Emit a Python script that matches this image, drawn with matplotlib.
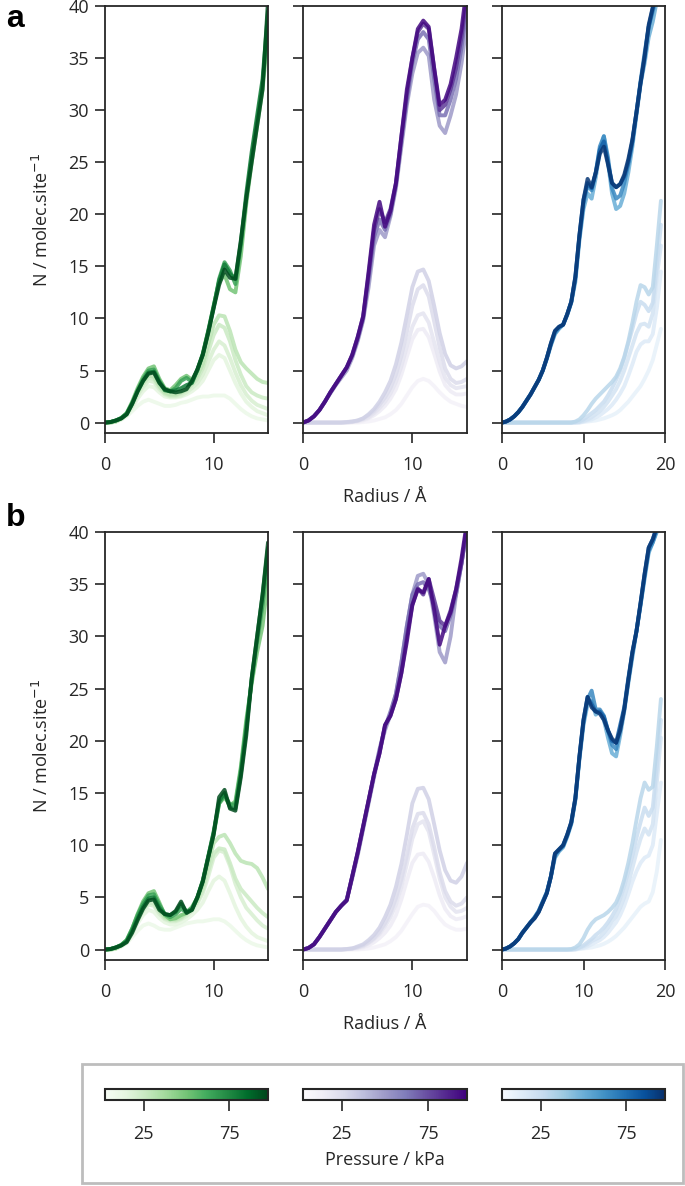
import numpy as np
import matplotlib
matplotlib.use("Agg")
import matplotlib.pyplot as plt
from matplotlib.patches import Rectangle
from matplotlib.colors import Normalize
from matplotlib.cm import ScalarMappable

plt.rcParams['font.family'] = ['Open Sans', 'DejaVu Sans']

# ---------------- data ----------------
radius_short = np.arange(0, 15.01, 0.5)     # 31 points (panels 1, 2)
radius_long = np.arange(0, 19.51, 0.5)      # 40 points (panel 3)

pressures = [10, 15, 20, 25, 30, 50, 65, 80, 95]   # kPa
pressure_ticks = [25, 75]
pressure_range = (2.5, 97.5)

# Row a, green
green_a_10 = [0,0,0.1,0.3,0.6,1.1,1.6,2.0,2.2,2.0,1.8,1.6,1.6,1.7,1.9,2.0,2.2,2.4,2.5,2.5,2.6,2.6,2.6,2.3,1.8,1.3,0.9,0.6,0.4,0.3,0.2]
green_a_15 = [0,0,0.1,0.3,0.7,1.4,2.3,3.0,3.5,3.4,2.9,2.5,2.4,2.4,2.5,2.7,3.0,3.4,4.0,5.0,6.0,6.5,6.2,5.0,3.8,2.8,2.0,1.5,1.1,0.9,0.7]
green_a_20 = [0,0,0.1,0.4,0.8,1.6,2.6,3.4,4.0,3.9,3.2,2.7,2.5,2.5,2.6,2.9,3.3,3.8,4.6,5.8,7.0,7.8,7.4,6.2,4.8,3.6,2.7,2.1,1.7,1.5,1.3]
green_a_25 = [0,0,0.1,0.4,0.8,1.7,2.8,3.7,4.3,4.2,3.4,2.8,2.6,2.6,2.8,3.1,3.6,4.2,5.2,6.8,8.4,9.4,9.1,7.8,6.0,4.6,3.5,2.9,2.6,2.4,2.3]
green_a_30 = [0,0,0.1,0.4,0.9,1.8,3.0,3.9,4.5,4.4,3.5,2.9,2.7,2.7,2.9,3.2,3.8,4.5,5.6,7.5,9.4,10.3,10.2,8.8,7.0,5.8,5.2,4.7,4.2,3.9,3.8]
green_a_50 = [0,0.05,0.2,0.45,0.9,2.0,3.3,4.4,5.2,5.4,4.2,3.3,3.1,3.6,4.2,4.5,4.1,5.0,6.6,8.8,11.2,13.5,14.2,12.8,12.5,16.0,21.0,25.0,28.5,32.0,37.5]
green_a_65 = [0,0.05,0.2,0.45,0.9,1.9,3.1,4.2,5.0,5.1,4.0,3.2,3.0,3.3,4.0,4.3,3.9,5.0,6.5,8.7,11.0,13.8,15.4,14.6,13.3,17.0,21.5,25.5,29.0,32.5,38.5]
green_a_80 = [0,0.05,0.2,0.4,0.8,1.8,3.0,4.0,4.8,4.9,3.9,3.1,3.0,3.1,3.3,3.6,3.8,5.1,6.6,8.8,11.2,13.6,15.2,14.3,13.8,17.3,22.0,26.0,29.5,33.0,39.5]
green_a_95 = [0,0.05,0.2,0.4,0.8,1.8,3.0,4.0,4.7,4.8,3.8,3.2,3.0,2.9,3.0,3.2,4.0,5.1,6.5,8.6,11.0,13.2,14.7,13.9,13.8,17.5,21.5,25.0,28.5,32.0,40.5]

# Row a, purple
purple_a_10 = [0,0,0,0,0,0,0,0,0,0,0,0.05,0.1,0.2,0.35,0.5,0.8,1.2,1.8,2.6,3.4,4.0,4.2,4.0,3.5,2.9,2.4,2.0,1.8,1.6,1.5]
purple_a_15 = [0,0,0,0,0,0,0,0,0,0.05,0.1,0.2,0.4,0.7,1.1,1.6,2.3,3.2,4.6,6.3,8.0,8.9,9.0,8.2,6.6,4.9,3.6,3.0,2.7,2.7,2.8]
purple_a_20 = [0,0,0,0,0,0,0,0,0,0.05,0.15,0.3,0.5,0.9,1.4,2.0,2.8,3.9,5.4,7.3,9.2,10.3,10.5,9.6,7.7,5.8,4.3,3.6,3.3,3.4,3.5]
purple_a_25 = [0,0,0,0,0,0,0,0,0.05,0.1,0.2,0.4,0.7,1.1,1.7,2.4,3.3,4.6,6.4,8.7,11.2,12.8,13.2,12.1,9.7,7.2,5.2,4.2,3.8,3.9,4.2]
purple_a_30 = [0,0,0,0,0,0,0,0,0.05,0.1,0.2,0.4,0.8,1.3,2.0,2.9,4.0,5.6,7.7,10.3,13.0,14.5,14.7,13.6,11.2,8.6,6.6,5.5,5.2,5.4,5.9]
purple_a_50 = [0,0.2,0.6,1.2,2.0,2.8,3.6,4.3,5.0,6.2,7.8,9.8,13.0,17.0,18.5,17.8,19.8,22.5,26.5,30.5,33.5,35.5,36.0,35.2,31.0,28.5,27.8,29.5,31.5,34.5,38.5]
purple_a_65 = [0,0.2,0.6,1.2,2.0,2.9,3.7,4.5,5.3,6.4,8.0,10.0,13.8,17.8,19.5,18.5,20.0,22.8,27.0,31.0,34.5,36.8,37.5,36.8,33.0,29.5,29.5,31.0,33.0,36.0,40.0]
purple_a_80 = [0,0.2,0.6,1.2,2.0,2.9,3.7,4.5,5.3,6.5,8.2,10.2,14.2,18.5,20.5,19.2,20.5,23.0,27.5,31.5,35.0,37.5,38.3,37.8,34.0,30.0,30.5,32.0,34.0,37.0,41.0]
purple_a_95 = [0,0.2,0.6,1.2,2.0,2.9,3.7,4.5,5.3,6.5,8.2,10.2,14.5,19.0,21.2,18.8,20.3,23.0,27.5,32.0,35.0,37.8,38.6,38.0,34.0,30.5,31.0,32.5,35.0,37.8,42.0]

# Row a, blue
blue_a_10 = [0,0,0,0,0,0,0,0,0,0,0,0,0,0,0,0,0,0,0,0,0.05,0.1,0.15,0.2,0.3,0.4,0.55,0.7,0.9,1.2,1.6,2.0,2.5,3.0,3.5,4.2,5.0,6.0,7.5,9.0]
blue_a_15 = [0,0,0,0,0,0,0,0,0,0,0,0,0,0,0,0,0,0,0,0,0.1,0.2,0.3,0.5,0.7,1.0,1.3,1.7,2.2,2.8,3.5,4.5,5.6,6.8,7.5,7.8,7.8,8.5,11.0,14.5]
blue_a_20 = [0,0,0,0,0,0,0,0,0,0,0,0,0,0,0,0,0,0,0,0.05,0.15,0.3,0.5,0.8,1.1,1.5,2.0,2.6,3.2,4.0,5.0,6.2,7.4,8.6,9.4,9.5,9.2,10.5,14.0,17.0]
blue_a_25 = [0,0,0,0,0,0,0,0,0,0,0,0,0,0,0,0,0,0,0.05,0.1,0.3,0.6,0.9,1.2,1.6,2.0,2.6,3.3,4.1,5.0,6.2,7.6,9.0,10.5,11.6,11.3,10.7,11.5,15.0,19.0]
blue_a_30 = [0,0,0,0,0,0,0,0,0,0,0,0,0,0,0,0,0,0,0.1,0.3,0.7,1.2,1.8,2.3,2.7,3.1,3.5,3.9,4.4,5.2,6.3,7.8,9.6,11.6,13.2,13.0,12.3,13.0,17.0,21.3]
blue_a_50 = [0,0.1,0.3,0.6,1.0,1.5,2.1,2.7,3.4,4.1,5.0,6.1,7.4,8.5,9.0,9.4,10.3,11.5,13.5,17.5,20.5,22.0,21.5,23.5,26.0,27.5,25.0,22.0,20.5,20.8,22.0,24.0,26.5,29.5,32.5,34.5,37.0,38.5,40.5,42.0]
blue_a_65 = [0,0.1,0.3,0.6,1.0,1.5,2.1,2.7,3.4,4.1,5.0,6.2,7.5,8.6,9.1,9.4,10.4,11.6,13.8,17.8,21.0,22.8,22.3,24.0,26.5,27.5,25.5,22.5,21.5,21.8,23.0,24.8,27.0,29.8,32.8,35.5,38.0,39.5,41.0,42.5]
blue_a_80 = [0,0.1,0.3,0.6,1.0,1.5,2.1,2.7,3.4,4.1,5.0,6.2,7.6,8.8,9.2,9.4,10.4,11.6,14.0,18.0,21.4,23.0,22.5,24.0,26.2,27.0,25.0,23.0,22.6,22.9,23.6,25.0,27.0,29.8,32.6,35.0,38.0,39.8,41.5,43.0]
blue_a_95 = [0,0.1,0.3,0.6,1.0,1.5,2.1,2.7,3.4,4.1,5.0,6.2,7.6,8.8,9.2,9.4,10.4,11.6,14.0,18.0,21.4,23.4,22.6,24.0,25.8,26.5,24.8,23.0,22.6,22.9,23.8,25.3,27.2,29.8,32.6,35.2,38.2,39.9,41.5,43.0]

# Row b, green
green_b_10 = [0,0,0.1,0.3,0.6,1.2,1.8,2.3,2.5,2.3,2.0,1.9,1.9,2.1,2.3,2.5,2.6,2.7,2.7,2.8,2.9,2.9,2.7,2.3,1.8,1.3,0.9,0.6,0.4,0.3,0.2]
green_b_15 = [0,0,0.1,0.3,0.7,1.5,2.5,3.3,3.8,3.6,3.0,2.6,2.4,2.4,2.6,2.9,3.3,3.8,4.5,5.6,6.6,7.0,6.6,5.4,4.1,3.0,2.2,1.6,1.2,1.0,0.8]
green_b_20 = [0,0,0.1,0.4,0.8,1.7,2.8,3.7,4.3,4.2,3.4,2.9,2.7,2.7,2.9,3.2,3.7,4.4,5.4,7.0,8.8,9.5,9.3,8.0,6.3,5.0,4.0,3.4,2.8,2.3,2.0]
green_b_25 = [0,0,0.1,0.4,0.8,1.8,3.0,3.9,4.5,4.4,3.6,3.0,2.8,2.8,3.0,3.4,3.9,4.6,5.7,7.5,9.2,9.7,9.6,8.3,6.8,5.8,5.2,4.6,4.0,3.5,3.1]
green_b_30 = [0,0,0.1,0.4,0.9,1.9,3.2,4.2,4.9,4.8,3.8,3.1,2.9,2.9,3.1,3.5,4.1,4.9,6.2,8.2,10.2,10.8,11.0,10.2,9.2,8.5,8.3,8.2,7.8,6.9,5.8]
green_b_50 = [0,0.05,0.2,0.45,0.9,2.0,3.4,4.6,5.4,5.6,4.5,3.3,2.9,3.0,3.3,3.5,3.9,4.9,6.5,8.8,11.0,14.0,14.6,13.8,14.2,17.5,22.0,25.5,28.5,31.0,35.5]
green_b_65 = [0,0.05,0.2,0.45,0.9,2.0,3.3,4.4,5.2,5.3,4.3,3.4,3.1,3.4,3.9,3.6,4.0,5.0,6.6,8.9,11.2,14.0,14.8,13.9,13.9,17.2,21.5,25.8,29.5,33.0,37.5]
green_b_80 = [0,0.05,0.2,0.4,0.8,1.8,3.0,4.1,4.9,5.0,4.0,3.4,3.3,3.6,4.4,3.6,3.8,5.0,6.6,8.9,11.3,14.2,15.0,13.6,13.5,16.8,21.0,26.0,30.0,34.0,38.5]
green_b_95 = [0,0.05,0.2,0.4,0.7,1.6,2.8,3.9,4.7,4.8,3.8,3.4,3.3,3.7,4.6,3.5,3.8,5.0,6.5,8.8,11.0,14.6,15.3,13.5,13.3,16.5,20.5,26.0,30.0,34.0,39.0]

# Row b, purple
purple_b_10 = [0,0,0,0,0,0,0,0,0,0,0,0.05,0.1,0.2,0.35,0.5,0.8,1.2,1.8,2.6,3.4,4.1,4.3,4.2,3.7,3.0,2.4,2.1,1.9,1.9,2.0]
purple_b_15 = [0,0,0,0,0,0,0,0,0,0.05,0.1,0.2,0.4,0.7,1.1,1.6,2.3,3.3,4.8,6.6,8.3,9.1,9.2,8.4,6.9,5.2,3.9,3.2,2.9,3.0,3.2]
purple_b_20 = [0,0,0,0,0,0,0,0,0.05,0.1,0.2,0.3,0.6,1.0,1.5,2.2,3.1,4.3,6.0,8.2,10.6,12.0,12.3,11.3,9.1,6.8,5.0,4.1,3.6,3.7,4.0]
purple_b_25 = [0,0,0,0,0,0,0,0,0.05,0.1,0.2,0.4,0.7,1.1,1.7,2.5,3.5,4.9,6.7,9.0,11.6,13.0,13.1,12.0,9.8,7.4,5.6,4.6,4.2,4.4,5.0]
purple_b_30 = [0,0,0,0,0,0,0,0,0.05,0.1,0.3,0.5,0.9,1.4,2.1,3.1,4.3,6.0,8.2,11.0,14.0,15.4,15.5,14.4,12.0,9.5,7.6,6.6,6.4,7.0,8.3]
purple_b_50 = [0,0.15,0.5,1.2,2.0,2.8,3.6,4.2,4.8,6.8,9.0,11.5,14.0,16.5,19.0,21.0,22.5,24.5,27.5,31.0,34.0,35.8,36.0,35.0,32.0,28.5,27.5,30.0,34.0,37.0,40.5]
purple_b_65 = [0,0.15,0.5,1.2,2.0,2.8,3.6,4.2,4.8,7.0,9.2,11.7,14.2,16.8,19.2,21.3,22.8,24.5,27.5,31.0,34.0,35.0,35.2,34.5,33.0,31.0,30.5,32.0,34.0,37.0,40.5]
purple_b_80 = [0,0.15,0.5,1.2,2.0,2.8,3.6,4.2,4.7,7.0,9.3,11.8,14.3,16.8,18.8,21.5,22.4,24.0,26.5,30.0,33.0,34.6,34.0,35.5,33.5,31.5,31.0,32.5,34.5,37.0,40.5]
purple_b_95 = [0,0.15,0.5,1.2,2.0,2.8,3.6,4.2,4.7,7.0,9.3,11.8,14.3,16.8,18.8,21.5,22.4,24.0,26.5,29.5,33.0,34.5,34.2,35.5,32.5,29.2,31.0,32.3,34.5,37.5,41.0]

# Row b, blue
blue_b_10 = [0,0,0,0,0,0,0,0,0,0,0,0,0,0,0,0,0,0,0,0.05,0.1,0.15,0.2,0.3,0.4,0.55,0.75,1.0,1.3,1.7,2.1,2.6,3.1,3.6,4.1,4.4,4.6,5.5,7.5,10.5]
blue_b_15 = [0,0,0,0,0,0,0,0,0,0,0,0,0,0,0,0,0,0,0,0.1,0.15,0.3,0.5,0.7,0.9,1.2,1.6,2.1,2.6,3.3,4.2,5.3,6.5,7.5,8.3,8.8,9.0,10.0,13.0,16.0]
blue_b_20 = [0,0,0,0,0,0,0,0,0,0,0,0,0,0,0,0,0,0,0.05,0.15,0.3,0.5,0.8,1.0,1.2,1.6,2.1,2.7,3.2,4.0,5.0,6.3,7.8,9.3,10.6,11.6,11.0,12.0,16.0,20.3]
blue_b_25 = [0,0,0,0,0,0,0,0,0,0,0,0,0,0,0,0,0,0,0.05,0.2,0.4,0.7,1.0,1.4,1.7,2.1,2.6,3.2,3.9,4.9,6.1,7.5,9.0,10.7,12.2,13.6,12.8,13.6,17.5,22.0]
blue_b_30 = [0,0,0,0,0,0,0,0,0,0,0,0,0,0,0,0,0,0.05,0.2,0.5,1.1,1.9,2.5,2.9,3.1,3.3,3.6,4.0,4.5,5.4,6.7,8.3,10.2,12.4,14.5,16.0,15.3,15.6,19.5,24.0]
blue_b_50 = [0,0.1,0.3,0.6,1.0,1.6,2.1,2.6,3.1,3.7,4.6,5.5,7.0,8.8,9.4,9.8,10.8,12.0,14.3,18.2,21.5,23.5,23.8,22.5,22.8,22.0,20.3,18.8,18.5,20.5,22.8,25.5,28.0,30.5,33.0,35.5,38.0,39.0,40.0,41.5]
blue_b_65 = [0,0.1,0.3,0.6,1.0,1.6,2.1,2.6,3.1,3.7,4.6,5.5,7.0,9.0,9.5,9.9,10.9,12.1,14.4,18.4,21.8,24.0,24.8,23.0,23.0,22.4,21.0,19.6,19.2,21.0,23.0,25.8,28.3,30.5,33.0,35.8,38.2,39.0,40.2,41.5]
blue_b_80 = [0,0.1,0.3,0.6,1.0,1.6,2.1,2.6,3.0,3.6,4.5,5.4,7.0,9.2,9.6,10.0,11.0,12.2,14.5,18.5,22.0,24.2,23.5,22.8,22.8,22.3,21.0,20.0,19.8,21.5,23.2,26.0,28.5,30.5,33.2,36.0,38.5,39.3,40.5,42.0]
blue_b_95 = [0,0.1,0.3,0.6,1.0,1.6,2.1,2.6,3.0,3.6,4.5,5.4,7.0,9.2,9.6,10.0,11.0,12.2,14.5,18.5,22.0,24.2,23.2,22.8,22.6,22.0,21.0,20.2,19.8,21.0,23.0,25.8,28.5,30.5,33.2,36.0,38.5,39.3,40.5,42.0]

panels = [
    (0, 0, 'Greens', radius_short, [green_a_10, green_a_15, green_a_20, green_a_25, green_a_30, green_a_50, green_a_65, green_a_80, green_a_95], 15, [0, 10]),
    (0, 1, 'Purples', radius_short, [purple_a_10, purple_a_15, purple_a_20, purple_a_25, purple_a_30, purple_a_50, purple_a_65, purple_a_80, purple_a_95], 15, [0, 10]),
    (0, 2, 'Blues', radius_long, [blue_a_10, blue_a_15, blue_a_20, blue_a_25, blue_a_30, blue_a_50, blue_a_65, blue_a_80, blue_a_95], 20, [0, 10, 20]),
    (1, 0, 'Greens', radius_short, [green_b_10, green_b_15, green_b_20, green_b_25, green_b_30, green_b_50, green_b_65, green_b_80, green_b_95], 15, [0, 10]),
    (1, 1, 'Purples', radius_short, [purple_b_10, purple_b_15, purple_b_20, purple_b_25, purple_b_30, purple_b_50, purple_b_65, purple_b_80, purple_b_95], 15, [0, 10]),
    (1, 2, 'Blues', radius_long, [blue_b_10, blue_b_15, blue_b_20, blue_b_25, blue_b_30, blue_b_50, blue_b_65, blue_b_80, blue_b_95], 20, [0, 10, 20]),
]

# ---------------- layout ----------------
W, H = 685, 1186
fig = plt.figure(figsize=(W / 100, H / 100), dpi=100)

def px_axes(x0, y0, x1, y1):
    return fig.add_axes([x0 / W, 1 - y1 / H, (x1 - x0) / W, (y1 - y0) / H])

col_x = [(105, 268), (303, 467), (502, 665)]
row_y = [(6, 433), (532, 960)]
text_col = '#262626'
norm = Normalize(*pressure_range)
TICK_FS = 13

for row, col, cmap_name, x, curves, xmax, xt in panels:
    ax = px_axes(col_x[col][0], row_y[row][0], col_x[col][1], row_y[row][1])
    cmap = plt.get_cmap(cmap_name)
    for p, yv in zip(pressures, curves):
        ax.plot(x[:len(yv)], yv, color=cmap(norm(p)), lw=2.8, alpha=0.85,
                solid_joinstyle='round', solid_capstyle='round')
    ax.set_xlim(0, xmax)
    ax.set_ylim(-1, 40)
    ax.set_xticks(xt)
    ax.set_yticks(np.arange(0, 41, 5))
    ax.tick_params(direction='out', length=7.5, width=1.2, colors=text_col,
                   labelsize=TICK_FS)
    ax.tick_params(axis='x', pad=9)
    ax.tick_params(axis='y', pad=4)
    for s in ax.spines.values():
        s.set_linewidth(1.3)
        s.set_color(text_col)
    if col == 0:
        ax.set_ylabel('N / molec.site$^{-1}$', fontsize=TICK_FS, color=text_col, labelpad=12)
    else:
        ax.set_yticklabels([])
    if col == 1:
        ax.set_xlabel('Radius / Å', fontsize=TICK_FS, color=text_col, labelpad=10)

fig.text(6 / W, 1 - 4 / H, 'a', fontsize=23, fontweight='bold', va='top', ha='left',
         family=['Liberation Sans', 'DejaVu Sans'])
fig.text(6 / W, 1 - 503 / H, 'b', fontsize=23, fontweight='bold', va='top', ha='left',
         family=['Liberation Sans', 'DejaVu Sans'])

# colorbar box
box = Rectangle((82 / W, 1 - 1183 / H), (683 - 82) / W, (1183 - 1064) / H,
                transform=fig.transFigure, fill=False, edgecolor='#bdbdbd', lw=2)
fig.add_artist(box)

for i, cmap_name in enumerate(['Greens', 'Purples', 'Blues']):
    cax = px_axes(col_x[i][0], 1089, col_x[i][1], 1100)
    cb = fig.colorbar(ScalarMappable(norm=norm, cmap=plt.get_cmap(cmap_name)), cax=cax,
                      orientation='horizontal', ticks=pressure_ticks)
    cb.outline.set_linewidth(1.5)
    cb.outline.set_edgecolor(text_col)
    cax.tick_params(direction='out', length=8, width=1.2, colors=text_col,
                    labelsize=TICK_FS, pad=10)

fig.text(385 / W, 1 - 1160 / H, 'Pressure / kPa', fontsize=TICK_FS, color=text_col,
         ha='center', va='center')

fig.savefig('out.png', dpi=100)
